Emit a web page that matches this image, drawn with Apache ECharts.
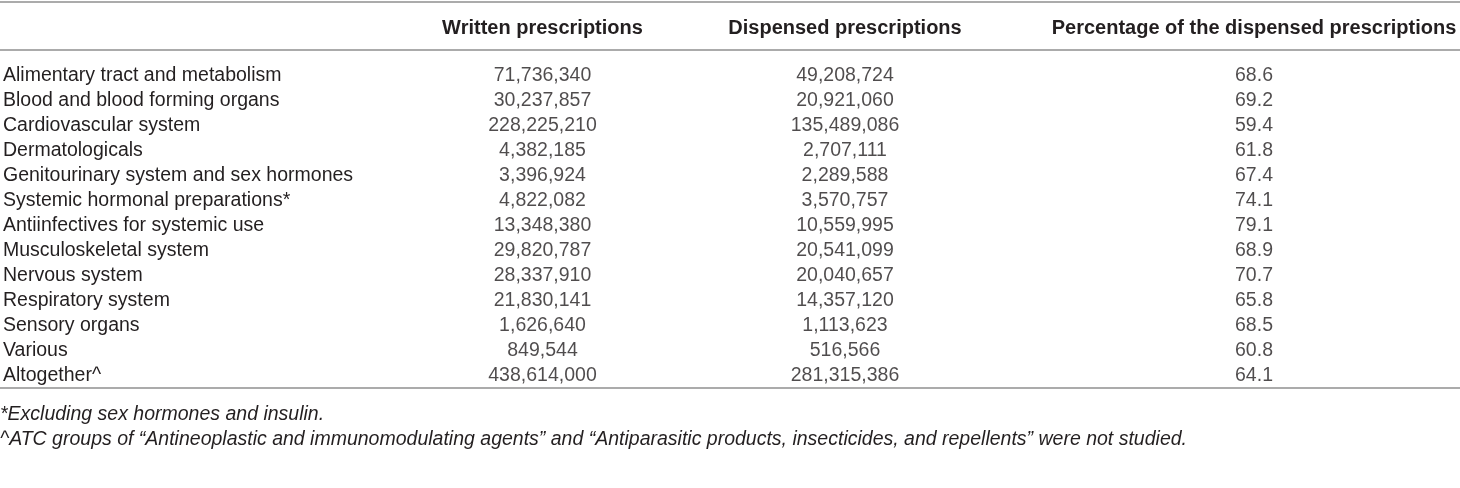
<!DOCTYPE html>
<html>
<head>
<meta charset="utf-8">
<script src="https://cdn.jsdelivr.net/npm/echarts@6/dist/echarts.min.js"></script>
<style>
  html, body { margin: 0; padding: 0; background: #fff; }
  #chart { width: 1460px; height: 488px; }
</style>
</head>
<body>
<div id="chart"></div>
<script>
var groups = [
    'Alimentary tract and metabolism',
    'Blood and blood forming organs',
    'Cardiovascular system',
    'Dermatologicals',
    'Genitourinary system and sex hormones',
    'Systemic hormonal preparations*',
    'Antiinfectives for systemic use',
    'Musculoskeletal system',
    'Nervous system',
    'Respiratory system',
    'Sensory organs',
    'Various',
    'Altogether^'
];
var columns = ['Written prescriptions', 'Dispensed prescriptions', 'Percentage of the dispensed prescriptions'];
var written = [71736340, 30237857, 228225210, 4382185, 3396924, 4822082, 13348380, 29820787, 28337910, 21830141, 1626640, 849544, 438614000];
var dispensed = [49208724, 20921060, 135489086, 2707111, 2289588, 3570757, 10559995, 20541099, 20040657, 14357120, 1113623, 516566, 281315386];
var percentage = [68.6, 69.2, 59.4, 61.8, 67.4, 74.1, 79.1, 68.9, 70.7, 65.8, 68.5, 60.8, 64.1];
var notes = [
    '*Excluding sex hormones and insulin.',
    '^ATC groups of \u201cAntineoplastic and immunomodulating agents\u201d and \u201cAntiparasitic products, insecticides, and repellents\u201d were not studied.'
];

var chart = echarts.init(document.getElementById('chart'));
var font = '"Liberation Sans", Arial, sans-serif';
var ink = '#231f20';
var rule = '#ababab';
var bodySize = 19.5;

function fmtInt(v) { return v.toLocaleString('en-US'); }
function fmtPct(v) { return v.toFixed(1); }

// one grid per value column, centred on the column header
var cols = [
    { center: 540, width: 260, values: written, fmt: fmtInt },
    { center: 845, width: 280, values: dispensed, fmt: fmtInt },
    { center: 1254, width: 400, values: percentage, fmt: fmtPct }
];

var grids = [], xAxes = [], yAxes = [], series = [];
cols.forEach(function (c, k) {
    var left = c.center - c.width / 2;
    grids.push({ left: left, width: c.width, top: 63.5, height: 325 });
    xAxes.push({
        type: 'category', gridIndex: k, position: 'top', data: [columns[k]],
        axisLine: { show: false }, axisTick: { show: false }, splitLine: { show: false },
        axisLabel: { margin: 25, interval: 0, fontFamily: font, fontSize: 20, fontWeight: 'bold', color: ink }
    });
    yAxes.push({
        type: 'category', gridIndex: k, data: groups, inverse: true,
        offset: k === 0 ? left + 2 : 0,
        axisLine: { show: false }, axisTick: { show: false }, splitLine: { show: false },
        axisLabel: k === 0 ? {
            show: true, interval: 0, align: 'left', margin: 0,
            fontFamily: font, fontSize: bodySize, color: ink
        } : { show: false }
    });
    series.push({
        type: 'scatter', xAxisIndex: k, yAxisIndex: k, symbolSize: 0, silent: true,
        data: c.values.map(function (v, i) { return [0, i, v]; }),
        encode: { x: 0, y: 1 },
        label: {
            show: true, position: 'inside', fontFamily: font, fontSize: bodySize, color: ink,
            formatter: function (p) { return c.fmt(p.value[2]); }
        }
    });
});

var option = {
    animation: false,
    grid: grids,
    xAxis: xAxes,
    yAxis: yAxes,
    series: series,
    title: notes.map(function (t, i) {
        return {
            text: t, left: 0, top: 405 + i * 25, padding: 0,
            textStyle: { fontFamily: font, fontSize: bodySize, fontWeight: 'normal', fontStyle: 'italic', color: ink }
        };
    }),
    graphic: [2, 50, 388].map(function (y) {
        return {
            type: 'line', shape: { x1: 0, y1: y, x2: 1460, y2: y },
            style: { stroke: rule, lineWidth: 2 }
        };
    })
};

chart.setOption(option);
</script>
</body>
</html>
